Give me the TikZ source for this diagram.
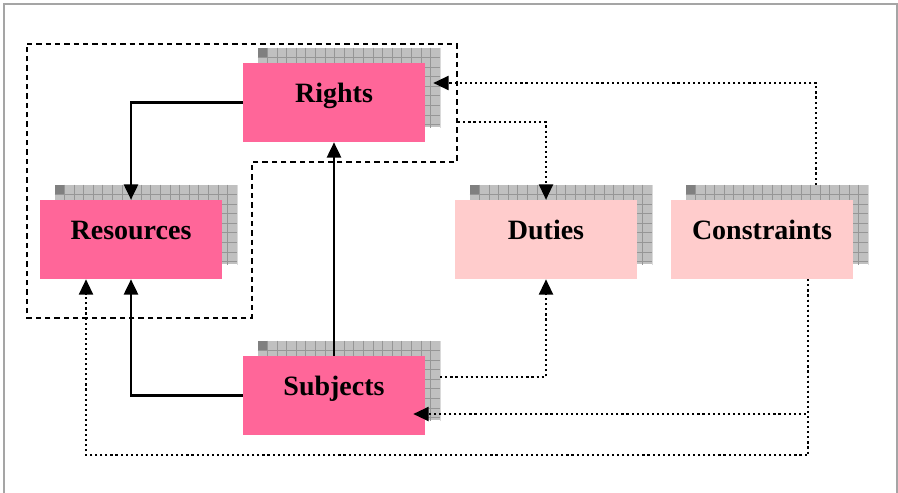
\documentclass[tikz,border=0pt]{standalone}
\usepackage{fontspec}
\setmainfont{Liberation Serif}
\usepackage{xcolor}
\usetikzlibrary{arrows.meta,calc,backgrounds}

\definecolor{strongpink}{RGB}{255,102,153}
\definecolor{palepink}{RGB}{255,204,204}
\definecolor{shadowgray}{RGB}{192,192,192}
\definecolor{gridgray}{RGB}{150,150,150}
\definecolor{cornergray}{RGB}{128,128,128}
\definecolor{framegray}{RGB}{165,165,165}

\tikzset{
  entity/.style={minimum width=136.5pt,minimum height=59.25pt,inner sep=0pt,
    text height=10pt,text depth=10pt,font=\bfseries\fontsize{21}{25}\selectfont},
  mainbox/.style={entity,fill=strongpink},
  sidebox/.style={entity,fill=palepink},
  solidlink/.style={line width=2pt,-{Triangle[length=11.5pt,width=10.5pt]}},
  dotlink/.style={line width=1.6pt,dash pattern=on 1.6pt off 2.2pt,-{Triangle[length=11.5pt,width=10.5pt]}},
  scopeline/.style={line width=1.1pt,dash pattern=on 4pt off 3pt}
}

% grid shadow behind a box, shifted up and right
\newcommand{\gridshadow}[1]{%
  \begin{scope}
    \fill[shadowgray] ([shift={(15,-15)}]#1.south west) rectangle ([shift={(15,-15)}]#1.north east);
    \clip ([shift={(15,-15)}]#1.south west) rectangle ([shift={(15,-15)}]#1.north east);
    \foreach \k in {1,...,19} {
      \draw[gridgray,line width=0.4pt] ([shift={(15+\k*9.6,-15)}]#1.north west) -- ++(0,80);
      \draw[gridgray,line width=0.4pt] ([shift={(15,-15+\k*9.6)}]#1.north west) -- ++(182,0);
    }
    \fill[cornergray] ([shift={(15,-15)}]#1.north west) rectangle ++(9.6,9.6);
  \end{scope}}

\begin{document}
\begin{tikzpicture}[x=0.75pt,y=0.75pt,yscale=-1,xscale=1]
\useasboundingbox (0,0) rectangle (898,492);

%Frame
\draw[framegray,line width=1.5pt] (4,500) -- (4,4) -- (896.5,4) -- (896.5,500);

%Boxes
\node[mainbox] (rights) at (334,102.5) {Rights};
\node[mainbox] (resources) at (131,239.5) {Resources};
\node[sidebox] (duties) at (546,239.5) {Duties};
\node[sidebox] (constraints) at (762,239.5) {Constraints};
\node[mainbox] (subjects) at (334,395.5) {Subjects};

%Shadows
\begin{scope}[on background layer]
  \gridshadow{rights}
  \gridshadow{resources}
  \gridshadow{duties}
  \gridshadow{constraints}
  \gridshadow{subjects}
\end{scope}

%Dashed region round Rights and Resources
\draw[scopeline] (27,44) -- (457,44) -- (457,162) -- (252,162) -- (252,318) -- (27,318) -- cycle;

%Solid links
\draw[solidlink] (rights.west) -| (resources.north);
\draw[solidlink] (subjects.north) -- (rights.south);
\draw[solidlink] (subjects.west) -| (resources.south);

%Dotted links
\draw[dotlink] ($(constraints.north)+(54,-15)$) |- ($(rights.east)+(8,-19.5)$);
\draw[dotlink] ($(rights.east)+(33,19.5)$) -| (duties.north);
\draw[dotlink] ($(subjects.east)+(15,-18.5)$) -| (duties.south);
\draw[dotlink] ($(constraints.south)+(46,0)$) |- ($(subjects.east)+(-12,18.5)$);
\draw[dotlink] ($(constraints.south)+(46,0)$) |- ($(resources.south)+(-45,176)$) -- ($(resources.south)+(-45,0)$);
\end{tikzpicture}
\end{document}
